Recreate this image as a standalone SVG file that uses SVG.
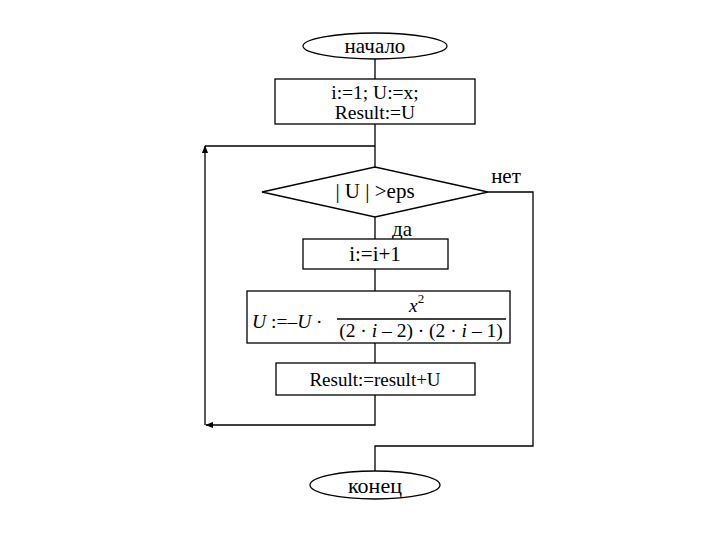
<svg xmlns="http://www.w3.org/2000/svg" width="720" height="540" viewBox="0 0 720 540">
<style>
.s{fill:#fff;stroke:#000;stroke-width:1.3}
.c{fill:none;stroke:#000;stroke-width:1.3}
.t{font-family:"Liberation Serif",serif;font-size:21px;fill:#000;text-anchor:middle;dominant-baseline:central}
.m{font-family:"Liberation Serif",serif;font-size:19.5px;fill:#000}
.i{font-style:italic}
</style>
<defs>
<marker id="a" viewBox="0 0 10 10" refX="9" refY="5" markerWidth="8" markerHeight="8" orient="auto" markerUnits="userSpaceOnUse">
<path d="M0,1 L10,5 L0,9 Z" fill="#000"/>
</marker>
</defs>
<rect width="720" height="540" fill="#fff"/>
<g id="connectors">
<line class="c" x1="375" y1="59" x2="375" y2="79"/>
<line class="c" x1="375" y1="124" x2="375" y2="167"/>
<polyline class="c" points="375,146 205,146"/>
<line class="c" x1="375" y1="217" x2="375" y2="239"/>
<line class="c" x1="375" y1="269" x2="375" y2="291"/>
<line class="c" x1="375" y1="343" x2="375" y2="363"/>
<polyline class="c" points="375,395 375,425 206,425" marker-end="url(#a)"/>
<polyline class="c" points="205,425 205,146" marker-end="url(#a)"/>
<polyline class="c" points="488,192 533,192 533,446 375,446 375,471"/>
<text class="t" x="506" y="176">нет</text>
<text class="t" x="402" y="229">да</text>
</g>
<g id="start">
<ellipse class="s" cx="375" cy="46" rx="72" ry="13"/>
<text class="t" x="375" y="46">начало</text>
</g>
<g id="init">
<rect class="s" x="275" y="79" width="200" height="45"/>
<text class="t" x="375" y="92" style="font-size:19.5px">i:=1; U:=x;</text>
<text class="t" x="375" y="112" style="font-size:19.5px">Result:=U</text>
</g>
<g id="cond">
<polygon class="s" points="262,192 375,167 488,192 375,217"/>
<text class="t" x="375" y="191">| U | &gt;eps</text>
</g>
<g id="inc">
<rect class="s" x="303" y="239" width="145" height="30"/>
<text class="t" x="375" y="254">i:=i+1</text>
</g>
<g id="formula">
<rect class="s" x="247" y="291" width="263" height="52"/>
<text class="m" x="252" y="328"><tspan class="i">U</tspan> :=–<tspan class="i">U</tspan> ·</text>
<line class="c" x1="337" y1="319" x2="506" y2="319" stroke-width="1"/>
<text class="m" x="409" y="312"><tspan class="i">x</tspan><tspan font-size="13" dy="-9">2</tspan></text>
<text class="m" x="421" y="337" text-anchor="middle">(2 · <tspan class="i">i</tspan> – 2) · (2 · <tspan class="i">i</tspan> – 1)</text>
</g>
<g id="sum">
<rect class="s" x="276" y="363" width="199" height="32"/>
<text class="t" x="375" y="379" style="font-size:19px">Result:=result+U</text>
</g>
<g id="end">
<ellipse class="s" cx="375" cy="485" rx="65" ry="14"/>
<text class="t" x="375" y="485" style="font-size:22px">конец</text>
</g>
</svg>
